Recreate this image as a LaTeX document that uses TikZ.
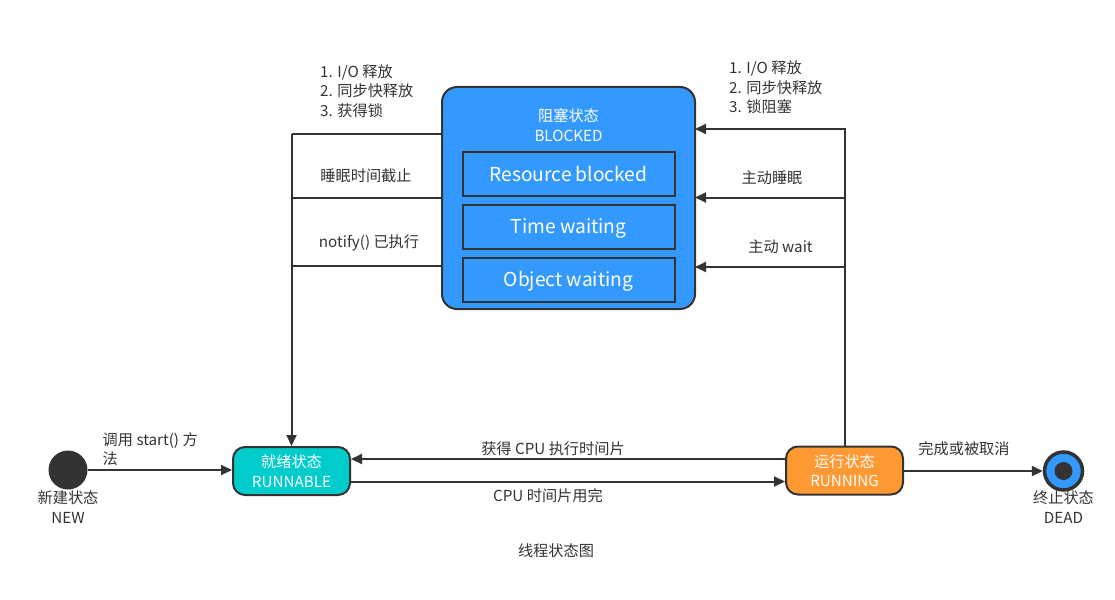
\documentclass[tikz,border=0pt]{standalone}
\usepackage{fontspec}
\setmainfont{Noto Sans CJK SC}
\usetikzlibrary{arrows.meta,calc}
\definecolor{dark}{HTML}{333333}
\definecolor{blueC}{HTML}{3399FF}
\definecolor{tealC}{HTML}{00CCCC}
\definecolor{orangeC}{HTML}{FF9933}
\newcommand{\lblfont}{\fontsize{15.2}{19.5}\selectfont}
\newcommand{\bigfont}{\fontsize{19.2}{22}\selectfont}
\tikzset{
  conn/.style={draw=dark, line width=2pt},
  arr/.style={conn, -{Triangle[length=11pt,width=10pt]}},
  lbl/.style={text=dark, font=\lblfont, inner sep=0pt, align=center},
  wlbl/.style={text=white, font=\lblfont, inner sep=0pt, align=center},
  statebox/.style={draw=dark, line width=2pt, rounded corners=12pt, minimum width=117pt, minimum height=48pt, text=white, font=\lblfont, align=center, inner sep=0pt},
  subbox/.style={draw=dark, line width=2pt, fill=blueC, minimum width=212pt, minimum height=44pt, text=white, font=\bigfont, inner sep=0pt, text height=14pt, text depth=0pt},
}
\begin{document}
\begin{tikzpicture}[x=1pt,y=-1pt]
\useasboundingbox (0,0) rectangle (1115,599);

% BLOCKED
\node[draw=dark, line width=2pt, fill=blueC, rounded corners=15pt, minimum width=253pt, minimum height=222pt, inner sep=0pt] (blocked) at (568.5,198) {};
\node[wlbl] (btitle) at (568.5,125) {阻塞状态\\BLOCKED};
\node[subbox] (res) at (568.5,174) {Resource blocked};
\node[subbox] (tw) at (568.5,226.5) {Time waiting};
\node[subbox] (ow) at (568.5,279.5) {Object waiting};

% states
\node[statebox, fill=tealC] (runnable) at (291.5,471) {就绪状态\\RUNNABLE};
\node[statebox, fill=orangeC] (running) at (844.5,470.5) {运行状态\\RUNNING};
\node[circle, fill=dark, minimum size=39pt, inner sep=0pt] (newc) at (68,470) {};
\node[circle, draw=dark, line width=3.5pt, fill=blueC, minimum size=38pt, inner sep=0pt] (dead) at (1063.5,471) {};
\node[circle, fill=dark, minimum size=18pt, inner sep=0pt] (deaddot) at (dead.center) {};

% coordinates on blocked sides
\coordinate (bl1) at (442,134);
\coordinate (bl2) at (442,197.5);
\coordinate (bl3) at (442,265.5);
\coordinate (br1) at (695,129);
\coordinate (br2) at (695,197.5);
\coordinate (br3) at (695,267);

% left connectors: blocked -> runnable
\draw[conn] (bl1) -- (bl1 -| runnable.north);
\draw[conn] (bl2) -- (bl2 -| runnable.north);
\draw[conn] (bl3) -- (bl3 -| runnable.north);
\draw[arr] (bl1 -| runnable.north) -- (runnable.north);

% right connectors: running -> blocked
\draw[arr] (running.north) -- (running.north |- br1) -- (br1);
\draw[arr] (running.north |- br2) -- (br2);
\draw[arr] (running.north |- br3) -- (br3);

% bottom connectors
\draw[arr] (newc.east) -- (newc.east -| runnable.west);
\draw[arr] ([yshift=11.5pt]running.west) -- ([yshift=11.5pt]running.west -| runnable.east);
\draw[arr] ([yshift=-10.5pt]runnable.east) -- ([yshift=-10.5pt]runnable.east -| running.west);
\draw[arr] (running.east |- dead.west) -- (dead.west);

% labels
\node[lbl, align=left, anchor=west] (tl) at (320,91) {1. I/O 释放\\2. 同步快释放\\3. 获得锁};
\node[lbl, align=left, anchor=west] (tr) at (729,87.5) {1. I/O 释放\\2. 同步快释放\\3. 锁阻塞};
\node[lbl] (sleepend) at (366,176) {睡眠时间截止};
\node[lbl] (notify) at (369,243) {notify() 已执行};
\node[lbl] (sleep) at (772,178) {主动睡眠};
\node[lbl] (wait) at (780.5,247) {主动 wait};
\node[lbl, align=left, anchor=west] (start) at (102.5,449) {调用 start() 方\\法};
\node[lbl] (newl) at (68,507) {新建状态\\NEW};
\node[lbl] (deadl) at (1063.5,507) {终止状态\\DEAD};
\node[lbl] (finish) at (964,449) {完成或被取消};
\node[lbl] (getcpu) at (553,449) {获得 CPU 执行时间片};
\node[lbl] (cpuout) at (548,496) {CPU 时间片用完};
\node[lbl] (title) at (556,551) {线程状态图};
\end{tikzpicture}
\end{document}
